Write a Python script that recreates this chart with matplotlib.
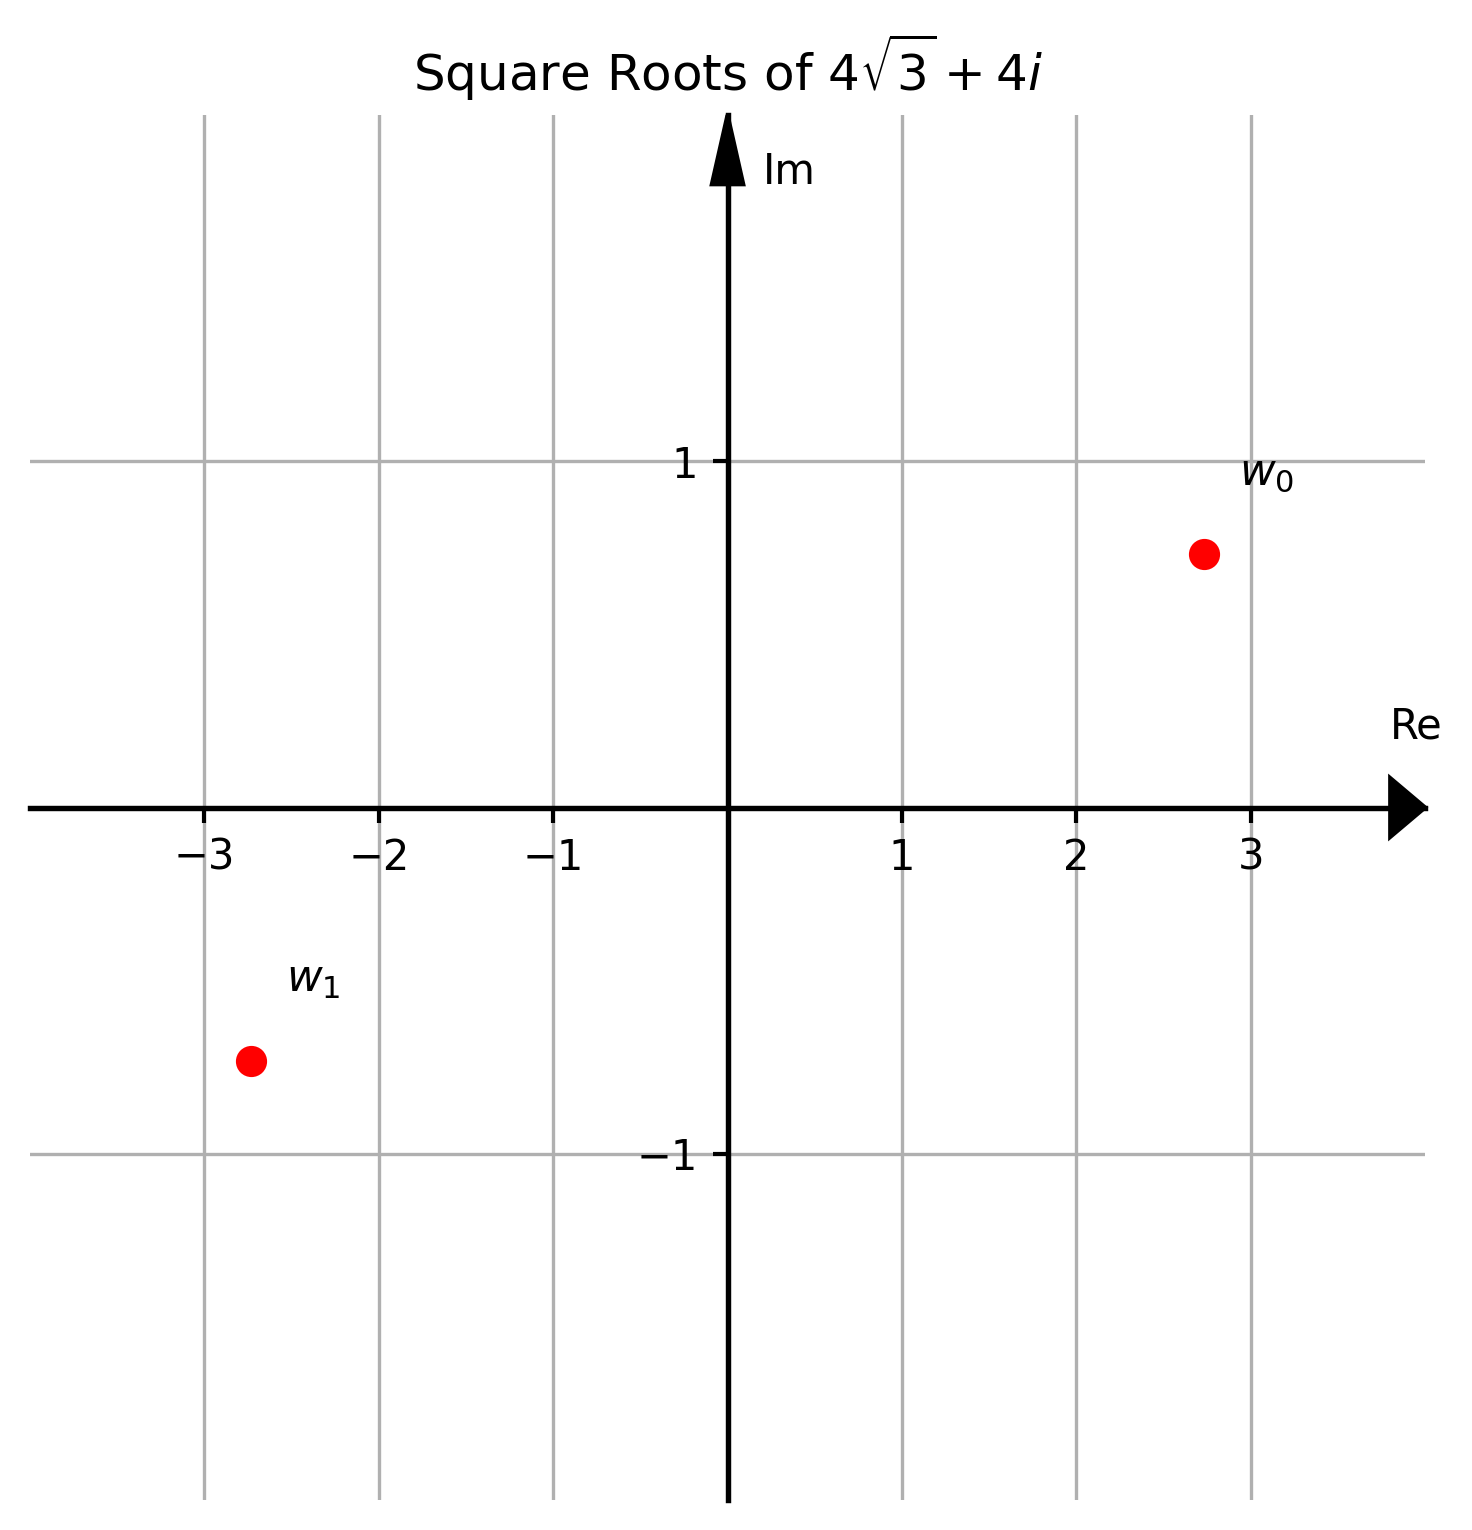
import matplotlib.pyplot as plt

# square roots of 4*sqrt(3) + 4i
root_labels = ['$w_0$', '$w_1$']
root_re = [2.732, -2.732]
root_im = [0.732, -0.732]

x_ticks = [-3, -2, -1, 1, 2, 3]
y_ticks = [-1, 1]


def main():
    fig = plt.figure(figsize=(4.907, 5.1), dpi=300)
    ax = fig.add_axes([30 / 1472, 30 / 1530, 1395 / 1472, 1385 / 1530])

    ax.set_xlim(-4, 4)
    ax.set_ylim(-2, 2)

    # axes through the origin
    ax.spines['left'].set_position('zero')
    ax.spines['bottom'].set_position('zero')
    ax.spines['right'].set_visible(False)
    ax.spines['top'].set_visible(False)
    for side in ['left', 'bottom']:
        ax.spines[side].set_zorder(3)
        ax.spines[side].set_linewidth(1.3)
    ax.tick_params(width=1.0)

    ax.set_xticks(x_ticks)
    ax.set_yticks(y_ticks)
    ax.grid(True, color='#b0b0b0', linewidth=0.8, zorder=0)
    ax.set_axisbelow(True)
    # grid line at 0 as well (hidden under the axes)
    ax.axhline(0, color='#b0b0b0', linewidth=0.8, zorder=0)

    # arrow heads
    ax.arrow(3.8, 0, 0.2, 0, width=0, head_width=0.17, head_length=0.2,
             length_includes_head=True, fc='k', ec='k', zorder=4, clip_on=False)
    ax.arrow(0, 1.8, 0, 0.2, width=0, head_width=0.18, head_length=0.2,
             length_includes_head=True, fc='k', ec='k', zorder=4, clip_on=False)

    ax.text(3.8, 0.2, 'Re', fontsize=10)
    ax.text(0.2, 1.8, 'Im', fontsize=10)

    ax.scatter(root_re, root_im, color='red', s=42, zorder=5)
    for lab, x, y in zip(root_labels, root_re, root_im):
        ax.text(x + 0.2, y + 0.2, lab, fontsize=10.5)

    ax.set_title('Square Roots of $4\\sqrt{3} + 4i$', fontsize=12)

    fig.savefig('out.png', dpi=300)


if __name__ == "__main__":
    main()
